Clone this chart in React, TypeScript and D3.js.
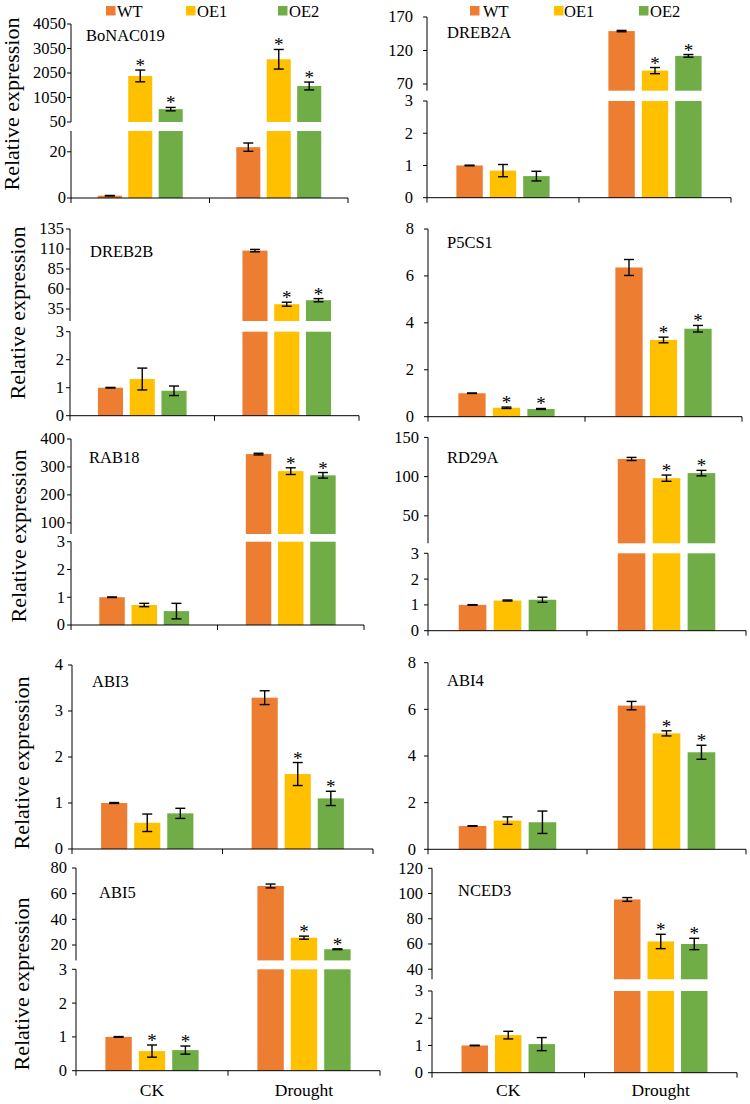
import React from 'react';
import * as d3 from 'd3';

// ---------------- DATA ----------------
const series = ['WT', 'OE1', 'OE2'];
const categories = ['CK', 'Drought'];
const genes = ['BoNAC019', 'DREB2A', 'DREB2B', 'P5CS1', 'RAB18', 'RD29A', 'ABI3', 'ABI4', 'ABI5', 'NCED3'];

// [CK, Drought] per gene
const wtMean = [[1.0, 22], [1.0, 149], [1.0, 108], [1.0, 6.36], [1.0, 346], [1.0, 122.5], [1.0, 3.29], [1.0, 6.16], [1.0, 66], [1.0, 95.3]];
const wtErr = [[0.1, 1.8], [0.01, 1], [0.01, 1.5], [0.01, 0.34], [0.01, 3], [0.01, 2], [0.01, 0.15], [0.01, 0.18], [0.01, 1.5], [0.01, 1.5]];
const oe1Mean = [[1930, 2610], [0.84, 90], [1.31, 41], [0.38, 3.27], [0.72, 285], [1.17, 98], [0.57, 1.63], [1.23, 4.97], [0.58, 25.7], [1.38, 62]];
const oe1Err = [[240, 400], [0.19, 4.6], [0.39, 2.5], [0.03, 0.12], [0.06, 12], [0.02, 4], [0.19, 0.25], [0.16, 0.11], [0.18, 1.2], [0.14, 5.7]];
const oe2Mean = [[575, 1520], [0.67, 112], [0.89, 46], [0.33, 3.75], [0.5, 270], [1.2, 104.5], [0.775, 1.1], [1.16, 4.16], [0.61, 16.7], [1.05, 60]];
const oe2Err = [[70, 160], [0.15, 2], [0.17, 2], [0.02, 0.14], [0.28, 10], [0.1, 3.5], [0.11, 0.155], [0.48, 0.3], [0.12, 0.3], [0.24, 4.5]];
const oe1Sig = [[1, 1], [0, 1], [0, 1], [1, 1], [0, 1], [0, 1], [0, 1], [0, 1], [1, 1], [0, 1]];
const oe2Sig = [[1, 1], [0, 1], [0, 1], [1, 1], [0, 1], [0, 1], [0, 1], [0, 1], [1, 1], [0, 1]];

const lowerDomains = [[0, 29], [0, 3], [0, 3], [0, 8], [0, 3], [0, 3], [0, 4], [0, 8], [0, 3], [0, 3]];
const upperDomains: (number[] | null)[] = [[50, 4050], [60, 170], [20, 135], null, [60, 400], [15, 150], null, null, [8, 80], [32, 120]];
const lowerTicks = [[0, 20], [0, 1, 2, 3], [0, 1, 2, 3], [0, 2, 4, 6, 8], [0, 1, 2, 3], [0, 1, 2, 3], [0, 1, 2, 3, 4], [0, 2, 4, 6, 8], [0, 1, 2, 3], [0, 1, 2, 3]];
const upperTicks = [[50, 1050, 2050, 3050, 4050], [70, 120, 170], [35, 60, 85, 110, 135], [], [100, 200, 300, 400], [50, 100, 150], [], [], [20, 40, 60, 80], [40, 60, 80, 100, 120]];

const yLabel = 'Relative expression';

// ---------------- LAYOUT ----------------
const colors = ['#ED7D31', '#FFC000', '#70AD47'];
const FONT = 'Liberation Serif, Times New Roman, Times, serif';

type L = { x0: number; x1: number; base: number; lowTop: number; upBot?: number; upTop?: number; gx: number; gy: number; gap: number; yl?: number[]; cat?: boolean };
const layout: L[] = [
  { x0: 71, x1: 348, base: 198, lowTop: 131, upBot: 122, upTop: 24, gx: 86, gy: 41, gap: 5, yl: [19, 104] },
  { x0: 427, x1: 731, base: 197.7, lowTop: 101, upBot: 90.7, upTop: 17, gx: 447, gy: 38, gap: 14 },
  { x0: 70, x1: 359, base: 415.7, lowTop: 331.7, upBot: 321, upTop: 229, gx: 90, gy: 256.5, gap: 6, yl: [25, 313] },
  { x0: 428, x1: 742, base: 416.7, lowTop: 229, gx: 447, gy: 248, gap: 14 },
  { x0: 71, x1: 364, base: 625, lowTop: 541.7, upBot: 534, upTop: 439, gx: 89, gy: 462.5, gap: 6, yl: [26, 536] },
  { x0: 428, x1: 746, base: 630.7, lowTop: 553.3, upBot: 543.3, upTop: 437.4, gx: 447, gy: 463, gap: 9 },
  { x0: 72, x1: 373, base: 849, lowTop: 665, gx: 92, gy: 686.5, gap: 9, yl: [29, 763] },
  { x0: 428, x1: 746, base: 849.3, lowTop: 662.7, gx: 447, gy: 686, gap: 12 },
  { x0: 76, x1: 380, base: 1070.7, lowTop: 969.3, upBot: 960.4, upTop: 868, gx: 99, gy: 898, gap: 9, yl: [29, 984], cat: true },
  { x0: 432, x1: 737, base: 1072.7, lowTop: 991, upBot: 979.3, upTop: 868.3, gx: 458, gy: 896, gap: 9, cat: true },
];

const legends = [
  { sq: [106, 186, 278], tx: [117, 197, 289] },
  { sq: [470, 554, 639], tx: [483, 564, 650] },
];

function Panel({ i }: { i: number }) {
  const l = layout[i];
  const means = [wtMean[i], oe1Mean[i], oe2Mean[i]];
  const errs = [wtErr[i], oe1Err[i], oe2Err[i]];
  const sigs = [[0, 0], oe1Sig[i], oe2Sig[i]];
  const xCat = d3.scaleBand<string>().domain(categories).range([l.x0, l.x1]).padding(0);
  const xSer = d3.scaleBand<string>().domain(series).range([0, xCat.bandwidth()]).paddingInner(0.21).paddingOuter(0.88);
  const yLow = d3.scaleLinear().domain(lowerDomains[i]).range([l.base, l.lowTop]);
  const ud = upperDomains[i];
  const yUp = ud ? d3.scaleLinear().domain(ud).range([l.upBot!, l.upTop!]) : null;
  const lowMax = lowerDomains[i][1];
  const yOf = (v: number) => (yUp && v > lowMax ? yUp(v) : yLow(v));
  const bw = xSer.bandwidth();
  const capW = 5;

  const marks: React.ReactNode[] = [];
  series.forEach((s, si) => {
    categories.forEach((c, ci) => {
      const v = means[si][ci];
      const e = errs[si][ci];
      const x = xCat(c)! + xSer(s)!;
      const cx = x + bw / 2;
      if (yUp && v > lowMax) {
        marks.push(<rect key={`l${si}${ci}`} x={x} y={l.lowTop} width={bw} height={l.base - l.lowTop} fill={colors[si]} />);
        marks.push(<rect key={`u${si}${ci}`} x={x} y={yUp(v)} width={bw} height={l.upBot! - yUp(v)} fill={colors[si]} />);
      } else {
        marks.push(<rect key={`l${si}${ci}`} x={x} y={yLow(v)} width={bw} height={l.base - yLow(v)} fill={colors[si]} />);
      }
      const yt = yOf(v + e);
      const yb = yOf(v - e);
      marks.push(
        <g key={`e${si}${ci}`} stroke="#000" strokeWidth={1.4}>
          <line x1={cx} x2={cx} y1={yt} y2={yb} />
          <line x1={cx - capW} x2={cx + capW} y1={yt} y2={yt} />
          <line x1={cx - capW} x2={cx + capW} y1={yb} y2={yb} />
        </g>
      );
      if (sigs[si][ci]) {
        marks.push(
          <text key={`s${si}${ci}`} x={cx} y={yt + 2} textAnchor="middle" fontSize={19} fill="#000">*</text>
        );
      }
    });
  });

  const tickLabel = (y: number, t: number, k: string) => (
    <g key={k}>
      <line x1={l.x0 - 4} x2={l.x0} y1={y} y2={y} stroke="#000" strokeWidth={1} />
      <text x={l.x0 - l.gap} y={y} dy="0.33em" textAnchor="end" fontSize={16.5} fill="#000">{t}</text>
    </g>
  );

  const mid = xCat('Drought')!;
  return (
    <g>
      {marks}
      <line x1={l.x0} x2={l.x0} y1={l.lowTop} y2={l.base} stroke="#000" strokeWidth={1} />
      {yUp && <line x1={l.x0} x2={l.x0} y1={l.upTop} y2={l.upBot} stroke="#000" strokeWidth={1} />}
      {lowerTicks[i].map((t) => tickLabel(yLow(t), t, `lt${t}`))}
      {yUp && upperTicks[i].map((t) => tickLabel(yUp(t), t, `ut${t}`))}
      <line x1={l.x0} x2={l.x1} y1={l.base} y2={l.base} stroke="#000" strokeWidth={1} />
      {[l.x0, mid, l.x1].map((x, k) => (
        <line key={`xt${k}`} x1={x} x2={x} y1={l.base} y2={l.base + 5} stroke="#000" strokeWidth={1} />
      ))}
      {l.cat && categories.map((c) => (
        <text key={c} x={xCat(c)! + xCat.bandwidth() / 2} y={1096} textAnchor="middle" fontSize={17.5} fill="#000">{c}</text>
      ))}
      <text x={l.gx} y={l.gy} fontSize={16.5} fill="#000">{genes[i]}</text>
      {l.yl && (
        <text transform={`translate(${l.yl[0]},${l.yl[1]}) rotate(-90)`} textAnchor="middle" fontSize={22} fill="#000">{yLabel}</text>
      )}
    </g>
  );
}

export default function App() {
  return (
    <svg width={750} height={1104} style={{ position: 'absolute', left: 0, top: 0, background: '#fff', fontFamily: FONT }}>
      <rect width={750} height={1104} fill="#fff" />
      {legends.map((lg, li) => (
        <g key={li}>
          {series.map((s, si) => (
            <g key={s}>
              <rect x={lg.sq[si]} y={6} width={9.5} height={9.5} fill={colors[si]} />
              <text x={lg.tx[si]} y={16.5} fontSize={16.5} fill="#000">{s}</text>
            </g>
          ))}
        </g>
      ))}
      {genes.map((g, i) => <Panel key={g} i={i} />)}
    </svg>
  );
}
